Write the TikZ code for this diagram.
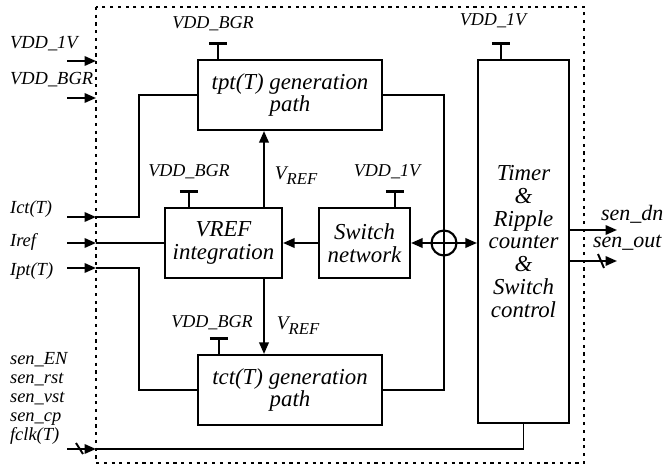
\documentclass[tikz,border=0pt]{standalone}
\usepackage{fontspec}
\setmainfont{Liberation Serif}
\usetikzlibrary{arrows.meta,calc}

\begin{document}
\begin{tikzpicture}[
    x=0.02cm, y=-0.02cm,
    block/.style={draw, line width=1.2pt, align=center, inner sep=2pt, font=\fontsize{13}{13}\selectfont\itshape},
    sup/.style={font=\fontsize{10.3}{12}\selectfont\itshape, inner sep=1pt},
    pin/.style={font=\fontsize{10.5}{10.8}\selectfont\itshape, inner sep=1pt, anchor=west},
    outpin/.style={font=\fontsize{12.5}{14}\selectfont\itshape, inner sep=1pt, anchor=west},
    vlab/.style={font=\fontsize{11}{12}\selectfont\itshape, inner sep=1pt},
    wire/.style={line width=1.1pt},
    arr/.style={wire, -{Triangle[length=2.3mm,width=1.9mm]}},
    tee/.style={line width=1.1pt, -{Bar[width=3.6mm,line width=1.7pt]}},
    frame/.style={line width=1.2pt, dash pattern=on 1.8pt off 2.6pt}
]
\useasboundingbox (0,0) rectangle (665,469);

% boundary
\draw[frame] (96,7) rectangle (584,463);

% blocks
\node[block, minimum width=3.68cm, minimum height=1.4cm] (tpt) at (290,95) {tpt(T) generation\\path};
\node[block, minimum width=2.34cm, minimum height=1.4cm] (vref) at (223.5,243) {VREF\\integration};
\node[block, minimum width=1.82cm, minimum height=1.4cm] (sw) at (364.5,243) {Switch\\network};
\node[block, minimum width=3.68cm, minimum height=1.4cm] (tct) at (290,390) {tct(T) generation\\path};
\node[block, minimum width=1.82cm, minimum height=7.26cm] (timer) at (523.5,241.5) {Timer\\\&\\Ripple\\counter\\\&\\Switch\\control};
\node[circle, draw, line width=1.2pt, minimum size=0.5cm, inner sep=0pt] (plus) at (444,243) {};

% supplies
\draw[tee] ($(tpt.north west)+(21,0)$) -- ++(0,-17);
\node[sup] (tptvdd) at (213,24) {VDD\_BGR};
\draw[tee] ($(vref.north west)+(25,0)$) -- ++(0,-17);
\node[sup] (vrefvdd) at (189,172) {VDD\_BGR};
\draw[tee] ($(sw.north west)+(77,0)$) -- ++(0,-17);
\node[sup] (swvdd) at (387,172) {VDD\_1V};
\draw[tee] ($(tct.north west)+(22,0)$) -- ++(0,-17);
\node[sup] (tctvdd) at (212,323) {VDD\_BGR};
\draw[tee] ($(timer.north west)+(24,0)$) -- ++(0,-17);
\node[sup] (timervdd) at (493,21) {VDD\_1V};

% inputs
\node[pin] (vdda) at (8,44) {VDD\_1V};
\node[pin] (vddb) at (8,80) {VDD\_BGR};
\node[pin] (ict) at (8,209) {Ict(T)};
\node[pin] (iref) at (8,242) {Iref};
\node[pin] (ipt) at (8,271) {Ipt(T)};
\node[pin, align=left] (ctrl) at (8,398) {sen\_EN\\sen\_rst\\sen\_vst\\sen\_cp\\fclk(T)};

\coordinate (vddasrc) at (67,61);  \coordinate (vddain) at (96,61);
\coordinate (vddbsrc) at (67,98);  \coordinate (vddbin) at (96,98);
\coordinate (ictsrc) at (67,217);  \coordinate (ictin) at (96,217);
\coordinate (irefsrc) at (67,243); \coordinate (irefin) at (96,243);
\coordinate (iptsrc) at (67,268);  \coordinate (iptin) at (96,268);
\coordinate (clksrc) at (67,449);  \coordinate (clkin) at (96,449);

\draw[arr] (vddasrc) -- (vddain);
\draw[arr] (vddbsrc) -- (vddbin);
\draw[arr] (ictsrc) -- (ictin);
\draw[wire] (ictin) -- ++(43,0) |- (tpt.west);
\draw[arr] (irefsrc) -- (irefin);
\draw[wire] (irefin) -- (vref.west);
\draw[arr] (iptsrc) -- (iptin);
\draw[wire] (iptin) -- ++(43,0) |- (tct.west);
\draw[arr] (clksrc) -- (clkin);
\draw[wire] (clkin) -| (timer.south);
\draw[wire] ($(clksrc)+(9,-6)$) -- ++(7,11);

% VREF paths
\coordinate (vx) at (264,0);
\draw[arr] (vref.north -| vx) -- (tpt.south -| vx);
\draw[arr] (vref.south -| vx) -- (tct.north -| vx);
\node[vlab] (vrefup) at (296,176) {V\raisebox{-0.6ex}{\fontsize{9.5}{10}\selectfont REF}};
\node[vlab] (vrefdn) at (298,326) {V\raisebox{-0.6ex}{\fontsize{9.5}{10}\selectfont REF}};
\draw[arr] (sw.west) -- (vref.east);

% summing node
\draw[wire] (tpt.east) -| (plus.center) |- (tct.east);
\draw[wire, {Triangle[length=2.3mm,width=1.9mm]}-{Triangle[length=2.3mm,width=1.9mm]}] (sw.east) -- (timer.west |- sw.east);

% outputs
\coordinate (dnend) at (617,230);
\coordinate (outend) at (617,261);
\draw[arr] (timer.east |- dnend) -- (dnend);
\draw[arr] (timer.east |- outend) -- (outend);
\draw[wire] ($(outend)+(-19,-7)$) -- ++(6,14);
\node[outpin] (dn) at (599,214) {sen\_dn};
\node[outpin] (out) at (591,243) {sen\_out};

\end{tikzpicture}
\end{document}
